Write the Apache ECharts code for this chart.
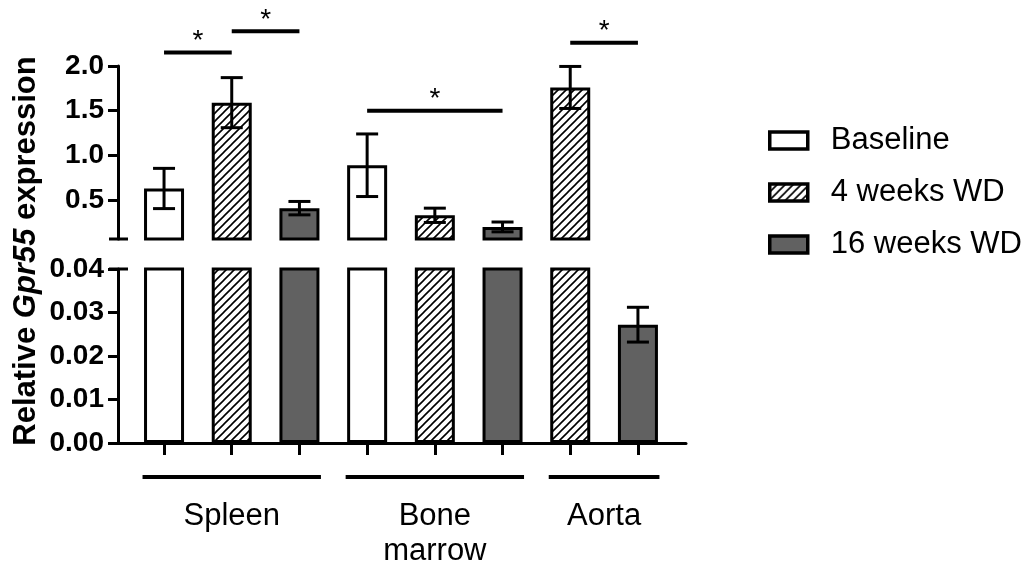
<!DOCTYPE html>
<html>
<head>
<meta charset="utf-8">
<script src="https://cdn.jsdelivr.net/npm/echarts@6/dist/echarts.min.js"></script>
<style>
  html, body { margin: 0; padding: 0; background: #fff; }
  #chart { width: 1025px; height: 563px; }
</style>
</head>
<body>
<div id="chart"></div>
<script>
var groups = ["Spleen", "Bone\nmarrow", "Aorta"]
var seriesNames = ["Baseline", "4 weeks WD", "16 weeks WD"]

// mean and SEM per group (null = not measured)
var baselineMean = [0.63, 0.89, null]
var baselineSem = [0.225, 0.35, null]
var wd4Mean = [1.59, 0.33, 1.76]
var wd4Sem = [0.28, 0.08, 0.235]
var wd16Mean = [0.41, 0.20, 0.0272]
var wd16Sem = [0.075, 0.055, 0.004]

var topTicks = [0.5, 1.0, 1.5, 2.0]
var bottomTicks = [0, 0.01, 0.02, 0.03, 0.04]

// significance: [group, series a, series b, height]
var sigBars = [
    [0, 0, 1, 2.15],
    [0, 1, 2, 2.39],
    [1, 0, 2, 1.50],
    [2, 1, 2, 2.26]
]

var means = [baselineMean, wd4Mean, wd16Mean]
var sems = [baselineSem, wd4Sem, wd16Sem]

// slot index for each bar along x
var slotOf = groups.map(() => [])
var nSlot = 0
groups.forEach((g, gi) => {
    seriesNames.forEach((n, si) => {
        if (means[si][gi] != null) slotOf[gi][si] = nSlot++
    })
})
var allSlots = []
for (let i = 0; i < nSlot; i++) allSlots.push(i)

var topMin = 0.065, topMax = 2.0, botMax = 0.04
var xMin = -0.68, xMax = nSlot - 1 + 0.71
var FONT = "Liberation Sans, Arial, sans-serif"
var BAR_W = 40

function hatch() {
    let s = 8
    let c = document.createElement("canvas")
    c.width = c.height = s
    let ctx = c.getContext("2d")
    ctx.fillStyle = "#fff"
    ctx.fillRect(0, 0, s, s)
    ctx.strokeStyle = "#000"
    ctx.lineWidth = 1.6
    ctx.beginPath()
    ctx.moveTo(-1, s + 1); ctx.lineTo(s + 1, -1)
    ctx.moveTo(-1, 1); ctx.lineTo(1, -1)
    ctx.moveTo(s - 1, s + 1); ctx.lineTo(s + 1, s - 1)
    ctx.stroke()
    return c
}
var fills = ["#ffffff", { image: hatch(), repeat: "repeat" }, "#616161"]

function barData(si) {
    let d = []
    groups.forEach((g, gi) => {
        if (means[si][gi] != null) d.push([slotOf[gi][si], means[si][gi]])
    })
    return d
}

function errData(lo, hi) {
    let d = []
    groups.forEach((g, gi) => {
        seriesNames.forEach((n, si) => {
            let m = means[si][gi]
            if (m != null && m > lo && m < hi) d.push([slotOf[gi][si], m, sems[si][gi]])
        })
    })
    return d
}

var blackLine = { color: "#000", width: 3 }

function renderErr(params, api) {
    let x = api.value(0), m = api.value(1), e = api.value(2)
    let p1 = api.coord([x, m + e]), p2 = api.coord([x, m - e])
    let cw = 11
    let st = { stroke: "#000", lineWidth: 3 }
    return {
        type: "group",
        children: [
            { type: "line", shape: { x1: p1[0], y1: p1[1], x2: p2[0], y2: p2[1] }, style: st },
            { type: "line", shape: { x1: p1[0] - cw, y1: p1[1], x2: p1[0] + cw, y2: p1[1] }, style: st },
            { type: "line", shape: { x1: p2[0] - cw, y1: p2[1], x2: p2[0] + cw, y2: p2[1] }, style: st }
        ]
    }
}

function renderSig(params, api) {
    let a = api.value(0), b = api.value(1), y = api.value(2)
    let p1 = api.coord([a, y]), p2 = api.coord([b, y])
    return {
        type: "group",
        children: [
            { type: "line", shape: { x1: p1[0], y1: p1[1], x2: p2[0], y2: p2[1] }, style: { stroke: "#000", lineWidth: 4 } },
            { type: "text", x: (p1[0] + p2[0]) / 2, y: p1[1] - 11,
              style: { text: "*", fontSize: 28, fontFamily: FONT, fill: "#000", align: "center", verticalAlign: "middle" } }
        ]
    }
}

function renderGroup(params, api) {
    let a = api.value(0), b = api.value(1), gi = api.value(2)
    let p1 = api.coord([a, 0]), p2 = api.coord([b, 0])
    let half = BAR_W / 2 + 1.5
    return {
        type: "group",
        children: [
            { type: "line", shape: { x1: p1[0] - half, y1: p1[1] + 34, x2: p2[0] + half, y2: p1[1] + 34 }, style: { stroke: "#000", lineWidth: 4 } },
            { type: "text", x: (p1[0] + p2[0]) / 2, y: p1[1] + 56,
              style: { text: groups[gi], fontSize: 31, lineHeight: 35, fontFamily: FONT, fill: "#000", align: "center", verticalAlign: "top" } }
        ]
    }
}

var series = []
seriesNames.forEach((n, si) => {
    [0, 1].forEach(k => {
        series.push({
            name: n,
            type: "bar",
            xAxisIndex: k,
            yAxisIndex: k,
            barWidth: BAR_W,
            barGap: "-100%",
            clip: true,
            itemStyle: { color: fills[si], borderColor: "#000", borderWidth: 3 },
            data: barData(si)
        })
    })
})
series.push({ type: "custom", xAxisIndex: 0, yAxisIndex: 0, z: 5, renderItem: renderErr, data: errData(topMin, 1e9) })
series.push({ type: "custom", xAxisIndex: 1, yAxisIndex: 1, z: 5, renderItem: renderErr, data: errData(-1, botMax) })
series.push({
    type: "custom", xAxisIndex: 0, yAxisIndex: 0, z: 5, clip: false, renderItem: renderSig,
    data: sigBars.map(s => [slotOf[s[0]][s[1]], slotOf[s[0]][s[2]], s[3]])
})
series.push({
    type: "custom", xAxisIndex: 1, yAxisIndex: 1, z: 5, clip: false, renderItem: renderGroup,
    data: groups.map((g, gi) => {
        let sl = slotOf[gi].filter(v => v != null)
        return [Math.min(...sl), Math.max(...sl), gi]
    })
})

function yAxisOf(k, min, max, ticks, digits) {
    return {
        gridIndex: k,
        type: "value",
        min: min,
        max: max,
        axisLine: { show: true, onZero: false, lineStyle: blackLine },
        axisTick: { show: true, length: 10, customValues: ticks, lineStyle: blackLine },
        axisLabel: {
            customValues: ticks, margin: 14, color: "#000", fontSize: 28, fontWeight: "bold", fontFamily: FONT,
            formatter: v => v.toFixed(digits)
        },
        splitLine: { show: false }
    }
}

var chart = echarts.init(document.getElementById("chart"))
chart.setOption({
    backgroundColor: "#fff",
    animation: false,
    grid: [
        { left: 118, top: 66, width: 568, height: 173 },
        { left: 118, top: 269, width: 568, height: 174 }
    ],
    xAxis: [
        { gridIndex: 0, type: "value", min: xMin, max: xMax, show: false },
        {
            gridIndex: 1, type: "value", min: xMin, max: xMax,
            axisLine: { show: true, onZero: false, lineStyle: blackLine },
            axisTick: { show: true, length: 12, customValues: allSlots, lineStyle: blackLine },
            axisLabel: { show: false },
            splitLine: { show: false }
        }
    ],
    yAxis: [
        yAxisOf(0, topMin, topMax, topTicks, 1),
        yAxisOf(1, 0, botMax, bottomTicks, 2)
    ],
    legend: {
        orient: "vertical",
        left: 763,
        top: 120,
        icon: "rect",
        itemWidth: 38,
        itemHeight: 17,
        itemGap: 21,
        data: seriesNames.map(n => ({ name: n, itemStyle: { borderColor: "#000", borderWidth: 3.5 } })),
        itemStyle: { borderColor: "#000", borderWidth: 3.5 },
        textStyle: { fontSize: 31, fontFamily: FONT, color: "#000", padding: [0, 0, 0, 18] }
    },
    series: series
})

// axis break marks
var b1 = chart.convertToPixel({ gridIndex: 0 }, [xMin, topMin])
var b2 = chart.convertToPixel({ gridIndex: 1 }, [xMin, botMax])
chart.setOption({
    graphic: [
        { type: "line", shape: { x1: b1[0] - 9, y1: b1[1], x2: b1[0] + 10, y2: b1[1] }, style: { stroke: "#000", lineWidth: 3 } },
        { type: "line", shape: { x1: b2[0] - 9, y1: b2[1], x2: b2[0] + 10, y2: b2[1] }, style: { stroke: "#000", lineWidth: 3 } },
        {
            type: "text", x: 26, y: 251, rotation: Math.PI / 2,
            style: {
                text: "{n|Relative }{i|Gpr55}{n| expression}",
                align: "center", verticalAlign: "middle",
                rich: {
                    n: { fontSize: 31, fontWeight: "bold", fontFamily: FONT, fill: "#000" },
                    i: { fontSize: 31, fontWeight: "bold", fontStyle: "italic", fontFamily: FONT, fill: "#000" }
                }
            }
        }
    ]
})
</script>
</body>
</html>
